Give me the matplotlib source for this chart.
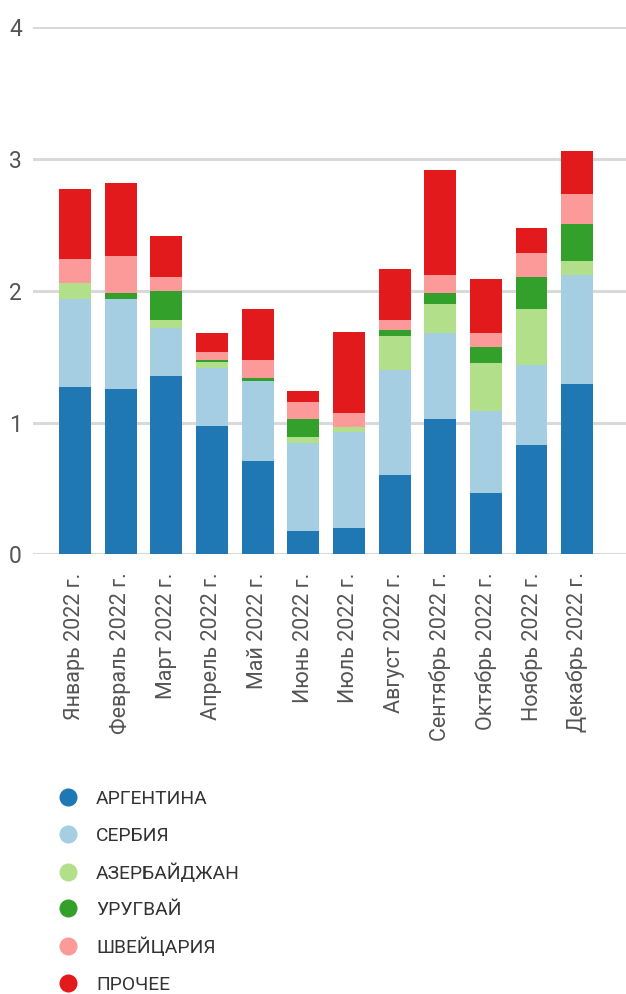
import matplotlib
matplotlib.use("Agg")
import matplotlib.pyplot as plt
from matplotlib.lines import Line2D
import numpy as np

plt.rcParams['font.family'] = ['Roboto', 'DejaVu Sans']

months = ["Январь 2022 г.", "Февраль 2022 г.", "Март 2022 г.", "Апрель 2022 г.",
          "Май 2022 г.", "Июнь 2022 г.", "Июль 2022 г.", "Август 2022 г.",
          "Сентябрь 2022 г.", "Октябрь 2022 г.", "Ноябрь 2022 г.", "Декабрь 2022 г."]

series_names = ["АРГЕНТИНА", "СЕРБИЯ", "АЗЕРБАЙДЖАН", "УРУГВАЙ", "ШВЕЙЦАРИЯ", "ПРОЧЕЕ"]

argentina  = [1.270, 1.255, 1.354, 0.974, 0.708, 0.177, 0.200, 0.602, 1.027, 0.465, 0.830, 1.293]
serbia     = [0.668, 0.683, 0.366, 0.441, 0.608, 0.669, 0.729, 0.800, 0.653, 0.623, 0.608, 0.828]
azerbaijan = [0.122, 0.000, 0.059, 0.045, 0.000, 0.045, 0.038, 0.256, 0.221, 0.365, 0.425, 0.106]
uruguay    = [0.000, 0.047, 0.221, 0.015, 0.023, 0.137, 0.000, 0.045, 0.084, 0.122, 0.243, 0.281]
switzerland= [0.182, 0.281, 0.107, 0.061, 0.137, 0.129, 0.107, 0.076, 0.136, 0.105, 0.182, 0.228]
other      = [0.532, 0.554, 0.311, 0.144, 0.387, 0.083, 0.615, 0.387, 0.797, 0.410, 0.190, 0.326]

colors = ["#1f78b4", "#a6cee3", "#b2df8a", "#33a02c", "#fb9a99", "#e31a1c"]

data = [argentina, serbia, azerbaijan, uruguay, switzerland, other]

W, H = 626, 994
fig = plt.figure(figsize=(W / 100, H / 100), dpi=100)
ax = fig.add_axes([33 / W, (H - 554.3) / H, (W - 33) / W, (554.3 - 27.3) / H])

x = np.arange(len(months))
bottom = np.zeros(len(months))
for vals, c, name in zip(data, colors, series_names):
    v = np.array(vals)
    ax.bar(x, v, bottom=bottom, width=0.70, color=c, label=name, zorder=3, linewidth=0)
    bottom += v

ax.set_ylim(0, 4)
ax.set_xlim(-0.92, 12.07)
ax.set_yticks([0, 1, 2, 3, 4])
ax.set_xticks(x)
ax.set_xticklabels(months, rotation=90, ha='center', va='top')
ax.tick_params(axis='both', length=0, labelcolor='#555555')
ax.tick_params(axis='x', pad=13, labelsize=15.5)
ax.tick_params(axis='y', pad=8, labelsize=16.5)
for s in ax.spines.values():
    s.set_visible(False)
ax.yaxis.grid(True, color='#d9d9d9', linewidth=2.2, zorder=0)
ax.set_axisbelow(True)

handles = [Line2D([0], [0], marker='o', linestyle='', markersize=13,
                  markerfacecolor=c, markeredgewidth=0) for c in colors]
fig.legend(handles, series_names, loc='upper left',
           bbox_to_anchor=(56.5 / W, (H - 790) / H), frameon=False,
           fontsize=13.9, labelcolor='#333333', handletextpad=0.85,
           labelspacing=0.96, borderaxespad=0, borderpad=0, handlelength=1.2)

fig.savefig("out.png", dpi=100)
